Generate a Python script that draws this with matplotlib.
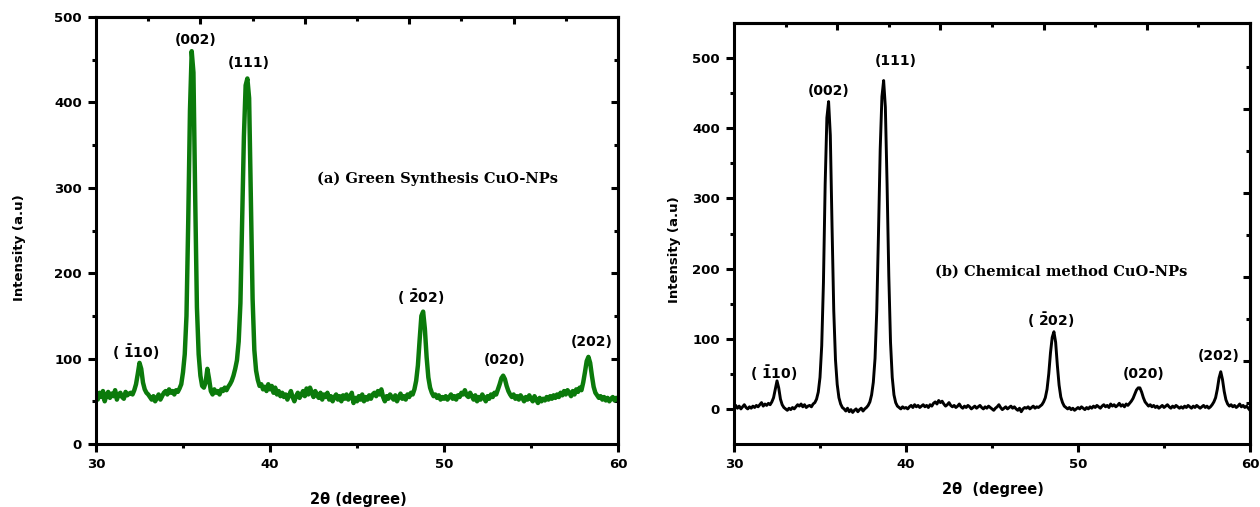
import numpy as np
import matplotlib
matplotlib.use("Agg")
import matplotlib.pyplot as plt
from matplotlib.ticker import MultipleLocator, FixedLocator

plt.rcParams['font.family'] = ['DejaVu Sans']
plt.rcParams['mathtext.fontset'] = 'dejavusans'

# ---------------- data ----------------
two_theta = np.round(np.arange(30.0, 60.0001, 0.1), 1)

green_intensity = [
    58, 52, 60, 55, 62, 50, 57, 61, 54, 59, 56, 63, 52, 58, 60, 55, 53, 61, 57, 59,
    60, 58, 63, 70, 82, 95, 88, 72, 64, 60,
    58, 55, 52, 56, 50, 54, 58, 52, 56, 60,
    62, 58, 64, 60, 62, 58, 63, 61, 65, 70,
    84, 105, 150, 260, 390, 460, 435, 290, 160, 105,
    80, 68, 66, 72, 88, 76, 62, 58, 64, 60,
    62, 58, 64, 62, 66, 63, 67, 70, 74, 80,
    88, 98, 120, 165, 260, 360, 420, 428, 405, 290,
    170, 110, 86, 75, 68, 70, 64, 67, 62, 70,
    64, 68, 60, 66, 58, 62, 56, 60, 55, 58,
    52, 57, 62, 55, 50, 56, 60, 54, 58, 62,
    56, 65, 58, 66, 60, 55, 62, 57, 54, 60,
    52, 58, 55, 60, 52, 56, 50, 55, 58, 52,
    56, 50, 57, 53, 58, 52, 55, 60, 48, 54,
    50, 56, 52, 58, 50, 55, 52, 57, 53, 58,
    60, 56, 62, 58, 64, 55, 50, 56, 53, 58,
    55, 52, 57, 50, 55, 59, 53, 56, 52, 58,
    55, 60, 58, 64, 74, 92, 122, 150, 155, 135,
    102, 78, 66, 60, 56, 58, 54, 57, 52, 55,
    53, 56, 52, 55, 58, 53, 56, 52, 57, 55,
    60, 58, 63, 57, 55, 60, 56, 52, 57, 50,
    55, 52, 58, 54, 50, 56, 53, 58, 55, 60,
    58, 64, 70, 77, 80, 76, 68, 62, 58, 55,
    58, 53, 56, 52, 57, 54, 50, 55, 52, 57,
    53, 50, 56, 52, 48, 54, 50, 53, 51, 55,
    52, 56, 53, 57, 54, 58, 55, 60, 57, 62,
    58, 63, 60, 56, 62, 58, 64, 61, 66, 63,
    72, 84, 97, 102, 95, 80, 67, 60, 57, 54,
    56, 52, 55, 51, 54, 50, 53, 55, 51, 54,
    52,
]

chemical_intensity = [
    3, 5, 1, 4, 0, 3, 6, 2, 0, 3,
    1, 4, 2, 5, 3, 6, 9, 4, 7, 5,
    8, 6, 10, 16, 28, 40, 30, 14, 6, 2,
    0, -2, 1, -1, 2, 0, 3, 6, 4, 7,
    3, 6, 2, 4, 5, 3, 7, 9, 14, 24,
    45, 90, 180, 320, 415, 438, 390, 260, 140, 70,
    35, 16, 7, 2, 0, -3, 1, -4, -1, -5,
    -2, 0, -4, -1, 1, -3, 0, 2, 5, 10,
    20, 38, 72, 140, 250, 370, 445, 468, 430, 320,
    190, 95, 45, 20, 9, 4, 2, 0, 3, 1,
    2, 0, 3, 5, 2, 6, 3, 5, 2, 4,
    6, 3, 5, 2, 6, 4, 8, 10, 7, 12,
    9, 11, 7, 4, 6, 9, 5, 3, 5, 2,
    4, 7, 3, 1, 4, 2, 5, 3, 0, 2,
    4, 1, 3, 5, 2, 0, 3, 1, 4, 2,
    0, -2, 1, 3, 6, 2, -1, 1, 3, 0,
    2, 4, 1, 3, 0, -2, 1, -4, 0, 2,
    1, 3, 0, 2, 4, 1, 3, 2, 4, 6,
    10, 16, 28, 50, 80, 102, 110, 95, 62, 34,
    17, 9, 4, 2, 0, 2, -1, 1, -2, 0,
    2, 0, 3, 1, -1, 2, 0, 3, 1, 4,
    2, 5, 3, 1, 4, 6, 3, 5, 2, 7,
    4, 6, 3, 5, 8, 4, 6, 3, 7, 5,
    8, 11, 15, 21, 27, 30, 30, 24, 16, 10,
    7, 4, 6, 3, 5, 2, 4, 1, 3, 5,
    2, 4, 6, 3, 1, 4, 2, 5, 3, 1,
    3, 1, 4, 2, 5, 3, 1, 4, 2, 5,
    3, 1, 3, 5, 2, 4, 1, 3, 6, 10,
    16, 28, 44, 53, 42, 25, 13, 7, 4, 6,
    3, 5, 2, 4, 7, 3, 5, 2, 4, 1,
    -2,
]

peak_labels = ["( $\\mathbf{\\bar{1}}$10)", "(002)", "(111)",
               "( $\\mathbf{\\bar{2}}$02)", "(020)", "(202)"]
green_label_x = [32.3, 35.7, 38.8, 48.65, 53.5, 58.5]
green_label_y = [108, 473, 446, 172, 98, 120]
chem_label_x = [32.3, 35.5, 39.4, 48.4, 53.8, 58.2]
chem_label_y = [51, 453, 496, 126, 50, 75]

green_title = "(a) Green Synthesis CuO-NPs"
chem_title = "(b) Chemical method CuO-NPs"

# ---------------- figure ----------------
fig = plt.figure(figsize=(12.6, 5.07), dpi=100)
ax1 = fig.add_axes([96/1260, 1-444/507, 522/1260, 427/507])
ax2 = fig.add_axes([734/1260, 1-444/507, 516/1260, 421/507])

ax1.plot(two_theta, green_intensity, color='#0b7a0b', lw=3.2)
ax2.plot(two_theta, chemical_intensity, color='black', lw=2.1)

ax1.set_ylim(0, 500)
ax2.set_ylim(-50, 550)

def style(ax, right_major, right_minor, xlabel, xlab_y, ylab_x):
    ax.set_xlim(30, 60)
    for sp in ax.spines.values():
        sp.set_linewidth(2.2)
    ax.xaxis.set_major_locator(MultipleLocator(10))
    ax.xaxis.set_minor_locator(MultipleLocator(5))
    ax.yaxis.set_major_locator(FixedLocator([0, 100, 200, 300, 400, 500]))
    ax.yaxis.set_minor_locator(FixedLocator([50, 150, 250, 350, 450]))
    ax.tick_params(which='major', direction='out', length=6, width=2.2,
                   labelsize=9.5, pad=4, top=False, right=False)
    ax.tick_params(which='minor', direction='out', length=3, width=2.2,
                   top=False, right=False)
    for lab in ax.get_xticklabels() + ax.get_yticklabels():
        lab.set_fontweight('bold')
    # top ticks
    sx = ax.secondary_xaxis('top')
    sx.set_xticks([36, 42, 48, 54])
    sx.set_xticks([33, 39, 45, 51, 57], minor=True)
    sx.tick_params(which='major', direction='in', length=5, width=2.2, labeltop=False)
    sx.tick_params(which='minor', direction='in', length=3, width=2.2)
    sx.spines['top'].set_linewidth(2.2)
    # right ticks
    sy = ax.secondary_yaxis('right')
    sy.set_yticks(right_major)
    sy.set_yticks(right_minor, minor=True)
    sy.tick_params(which='major', direction='in', length=5, width=2.2, labelright=False)
    sy.tick_params(which='minor', direction='in', length=3, width=2.2)
    sy.spines['right'].set_linewidth(2.2)
    ax.set_xlabel(xlabel, fontsize=10.5, fontweight='bold')
    ax.set_ylabel("Intensity (a.u)", fontsize=9.5, fontweight='bold')
    ax.xaxis.label.set_va('center')
    ax.yaxis.label.set_va('center')
    ax.xaxis.set_label_coords(0.502, xlab_y)
    ax.yaxis.set_label_coords(ylab_x, 0.461)

style(ax1, [100, 200, 300, 400], [50, 150, 250, 350, 450],
      "2θ (degree)", -0.131, -0.146)
style(ax2, [68, 188, 308, 428], [8, 128, 248, 368, 488],
      "2θ  (degree)", -0.107, -0.116)

for lab, x, y in zip(peak_labels, green_label_x, green_label_y):
    ax1.text(x, y, lab, ha='center', va='center', fontsize=10, fontweight='bold')
for lab, x, y in zip(peak_labels, chem_label_x, chem_label_y):
    ax2.text(x, y, lab, ha='center', va='center', fontsize=10, fontweight='bold')

ax1.text(49.6, 310, green_title, ha='center', va='center', fontsize=10.5,
         fontweight='bold', family='DejaVu Serif')
ax2.text(49.0, 196, chem_title, ha='center', va='center', fontsize=10.5,
         fontweight='bold', family='DejaVu Serif')

fig.savefig("out.png", dpi=100)
